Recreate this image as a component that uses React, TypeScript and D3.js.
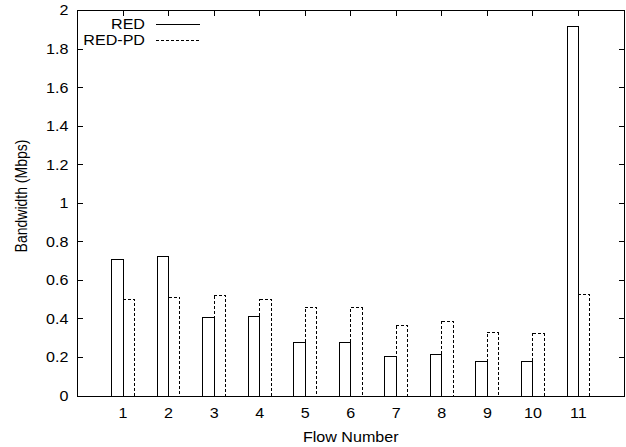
import React from "react";
import * as d3 from "d3";

const flows = [1, 2, 3, 4, 5, 6, 7, 8, 9, 10, 11];
const redValues = [0.709, 0.726, 0.406, 0.411, 0.279, 0.28, 0.206, 0.214, 0.18, 0.18, 1.916];
const redPdValues = [0.502, 0.51, 0.52, 0.502, 0.46, 0.457, 0.366, 0.389, 0.327, 0.322, 0.528];
const yTicks = [0, 0.2, 0.4, 0.6, 0.8, 1, 1.2, 1.4, 1.6, 1.8, 2];
const seriesNames = ["RED", "RED-PD"];

const W = 626;
const H = 447;
const left = 77.5;
const right = 624;
const top = 10.5;
const bottom = 396;
const FONT = "'Liberation Sans', Arial, Helvetica, sans-serif";
const FS = 14;
const SX = 1.15; // glyphs are a little wider than tall

type LabelProps = {
  x: number;
  y: number;
  anchor: "start" | "middle" | "end";
  rotate?: number;
  children: React.ReactNode;
};

function Label({ x, y, anchor, rotate = 0, children }: LabelProps) {
  return (
    <text
      transform={`translate(${x},${y}) scale(${SX},1) rotate(${rotate})`}
      dy="0.35em"
      textAnchor={anchor}
      fontSize={FS}
      fill="#000"
    >
      {children}
    </text>
  );
}

export default function App() {
  const x = d3.scaleLinear().domain([0, 12]).range([left, right]);
  const y = d3.scaleLinear().domain([0, 2]).range([bottom, top]);
  const halfW = 0.25;
  const tickLen = 5;

  return (
    <svg
      width={W}
      height={H}
      style={{ position: "absolute", left: 0, top: 0, background: "#fff" }}
      fontFamily={FONT}
    >
      {/* bars */}
      <g shapeRendering="crispEdges">
        {flows.map((f, i) => (
          <g key={f}>
            <rect
              x={x(f - halfW)}
              y={y(redValues[i])}
              width={x(f) - x(f - halfW)}
              height={y(0) - y(redValues[i])}
              fill="#fff"
              stroke="#000"
              strokeWidth={1}
            />
            <rect
              x={x(f)}
              y={y(redPdValues[i])}
              width={x(f + halfW) - x(f)}
              height={y(0) - y(redPdValues[i])}
              fill="none"
              stroke="#000"
              strokeWidth={1}
              strokeDasharray="3,2"
            />
          </g>
        ))}
      </g>

      {/* ticks: left/right for y, bottom/top for x */}
      <g shapeRendering="crispEdges" stroke="#000">
        {yTicks.map((t) => (
          <g key={t}>
            <line x1={left} x2={left + tickLen} y1={y(t)} y2={y(t)} />
            <line x1={right} x2={right - tickLen} y1={y(t)} y2={y(t)} />
          </g>
        ))}
        {flows.map((f) => (
          <g key={f}>
            <line x1={x(f)} x2={x(f)} y1={bottom} y2={bottom - tickLen} />
            <line x1={x(f)} x2={x(f)} y1={top} y2={top + tickLen} />
          </g>
        ))}
      </g>

      {/* frame */}
      <rect
        x={left}
        y={top}
        width={right - left}
        height={bottom - top}
        fill="none"
        stroke="#000"
        strokeWidth={1}
        shapeRendering="crispEdges"
      />

      {/* y tick labels */}
      {yTicks.map((t) => (
        <Label key={t} x={left - 9} y={y(t)} anchor="end">
          {d3.format("~g")(t)}
        </Label>
      ))}

      {/* x tick labels */}
      {flows.map((f) => (
        <Label key={f} x={x(f)} y={413} anchor="middle">
          {f}
        </Label>
      ))}

      {/* axis titles */}
      <Label x={(left + right) / 2} y={437} anchor="middle">
        Flow Number
      </Label>
      <Label x={21} y={196} anchor="middle" rotate={-90}>
        Bandwidth (Mbps)
      </Label>

      {/* legend */}
      {seriesNames.map((name, i) => {
        const ly = 24 + i * 16.5;
        return (
          <g key={name}>
            <Label x={145} y={ly} anchor="end">
              {name}
            </Label>
            <line
              x1={156}
              x2={200}
              y1={ly}
              y2={ly}
              stroke="#000"
              strokeWidth={1}
              strokeDasharray={i === 0 ? undefined : "3,2"}
              shapeRendering="crispEdges"
            />
          </g>
        );
      })}
    </svg>
  );
}
